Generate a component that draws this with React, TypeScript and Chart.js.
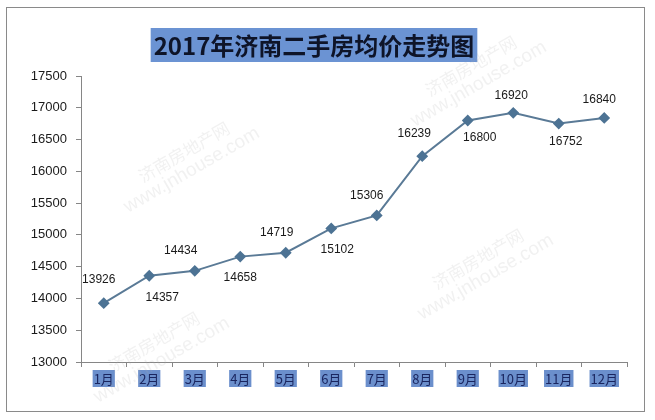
import React, { useEffect, useRef } from "react";
import { Chart, registerables } from "chart.js";

Chart.register(...registerables);

const TITLE = "2017年济南二手房均价走势图";
const MONTHS = ["1月", "2月", "3月", "4月", "5月", "6月", "7月", "8月", "9月", "10月", "11月", "12月"];
const PRICES = [13926, 14357, 14434, 14658, 14719, 15102, 15306, 16239, 16800, 16920, 16752, 16840];
const Y_MIN = 13000;
const Y_MAX = 17500;
const Y_STEP = 500;
const WATERMARK_LINE1 = "济南房地产网";
const WATERMARK_LINE2 = "www.jnhouse.com";

// label placement relative to each point (style)
const LABEL_OFFSETS: [number, number][] = [
  [-5, -23], [13, 22], [-14, -20], [0, 21], [-9, -20], [6, 21],
  [-10, -20], [-8, -22], [12, 17], [-2, -17], [7, 18], [-5, -18],
];
const WATERMARK_SPOTS: [number, number][] = [
  [143, 183], [437, 290], [430, 97], [113, 373],
];

const decorPlugin = {
  id: "decor",
  beforeDraw(chart: any) {
    const ctx = chart.ctx;
    ctx.save();
    ctx.fillStyle = "#ffffff";
    ctx.fillRect(0, 0, chart.width, chart.height);
    ctx.restore();
  },
  afterDraw(chart: any) {
    const ctx = chart.ctx;
    const xs = chart.scales.x;
    ctx.save();
    // outer border
    ctx.strokeStyle = "#8a8a8a";
    ctx.lineWidth = 1;
    ctx.strokeRect(6.5, 7.5, 638, 404);

    // title
    ctx.font = "bold 24px 'Noto Sans CJK SC'";
    const tw = ctx.measureText(TITLE).width;
    const tcx = 314;
    const tcy = 45;
    ctx.fillStyle = "#6b93d3";
    ctx.fillRect(tcx - tw / 2 - 3, tcy - 17, tw + 6, 34);
    ctx.fillStyle = "#0e1428";
    ctx.textAlign = "center";
    ctx.textBaseline = "middle";
    ctx.fillText(TITLE, tcx, tcy + 1);

    // x labels with blue boxes
    ctx.font = "13px 'Noto Sans CJK SC'";
    const labels = chart.data.labels as string[];
    labels.forEach((lab, i) => {
      const x = xs.getPixelForValue(i);
      const w = ctx.measureText(lab).width;
      ctx.fillStyle = "#6b8fcc";
      ctx.fillRect(x - w / 2 - 1, 370, w + 2, 17);
      ctx.fillStyle = "#1a2660";
      ctx.fillText(lab, x, 379);
    });

    // data labels
    ctx.font = "12px 'Liberation Sans', Arial";
    ctx.fillStyle = "#1a1a1a";
    const meta = chart.getDatasetMeta(0);
    const data = chart.data.datasets[0].data as number[];
    meta.data.forEach((pt: any, i: number) => {
      const off = LABEL_OFFSETS[i] || [0, -18];
      ctx.fillText(String(data[i]), pt.x + off[0], pt.y + off[1]);
    });

    // watermarks
    ctx.fillStyle = "rgba(170,170,170,0.17)";
    ctx.textAlign = "left";
    ctx.textBaseline = "alphabetic";
    WATERMARK_SPOTS.forEach(([wx, wy]) => {
      ctx.save();
      ctx.translate(wx, wy);
      ctx.rotate(-Math.PI / 6);
      ctx.font = "17px 'Noto Sans CJK SC'";
      ctx.fillText(WATERMARK_LINE1, 0, 0);
      ctx.restore();
      ctx.save();
      ctx.translate(wx - 15, wy + 30);
      ctx.rotate(-Math.PI / 6);
      ctx.font = "19px 'Liberation Sans', Arial";
      ctx.fillText(WATERMARK_LINE2, 0, 0);
      ctx.restore();
    });
    ctx.restore();
  },
};

export default function App() {
  const ref = useRef<HTMLCanvasElement | null>(null);
  useEffect(() => {
    if (!ref.current) return;
    const chart = new Chart(ref.current, {
      type: "line",
      data: {
        labels: MONTHS,
        datasets: [
          {
            data: PRICES,
            borderColor: "#5a7a96",
            borderWidth: 2,
            pointStyle: "rectRot",
            pointRadius: 4.5,
            pointBackgroundColor: "#4d7394",
            pointBorderColor: "#4d7394",
            tension: 0,
          },
        ],
      },
      options: {
        animation: false,
        responsive: false,
        devicePixelRatio: 1,
        layout: { padding: { left: 0, top: 76, right: 28, bottom: 0 } },
        plugins: { legend: { display: false }, title: { display: false }, tooltip: { enabled: false } },
        scales: {
          x: {
            type: "category",
            offset: true,
            grid: { offset: true, drawOnChartArea: false, drawTicks: true, tickLength: 5, color: "#868686" },
            border: { color: "#868686", width: 1 },
            ticks: { display: false },
            afterFit: (s: any) => { s.height = 58; },
          },
          y: {
            min: Y_MIN,
            max: Y_MAX,
            ticks: {
              stepSize: Y_STEP,
              color: "#1a1a1a",
              font: { family: "'Liberation Sans', Arial", size: 13 },
              padding: 9,
              callback: (v: any) => String(v),
            },
            grid: { drawOnChartArea: false, drawTicks: true, tickLength: 5, color: "#868686" },
            border: { color: "#868686", width: 1 },
            afterFit: (s: any) => { s.width = 81; },
          },
        },
      },
      plugins: [decorPlugin],
    });
    return () => chart.destroy();
  }, []);
  return (
    <div style={{ position: "absolute", left: 0, top: 0, width: 655, height: 420, background: "#fff" }}>
      <canvas ref={ref} width={655} height={420} />
    </div>
  );
}
